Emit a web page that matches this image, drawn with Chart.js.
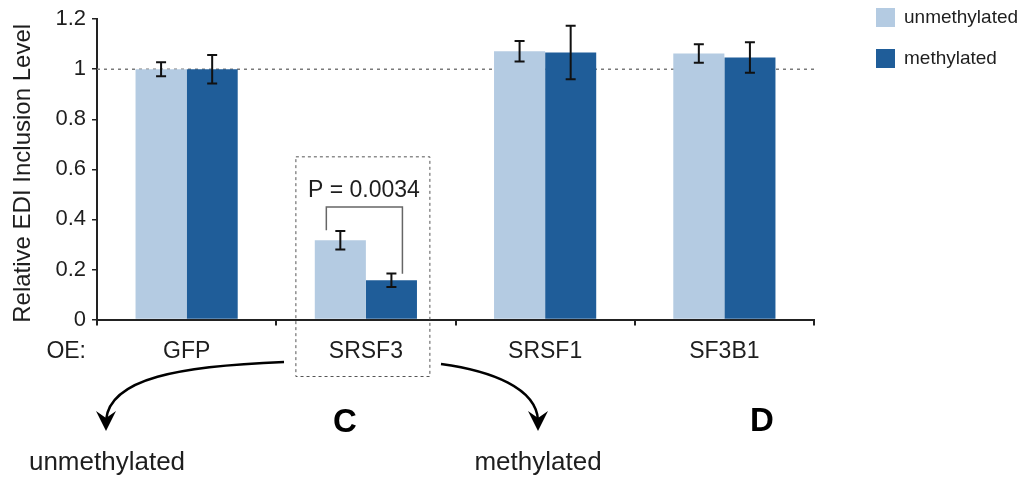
<!DOCTYPE html>
<html>
<head>
<meta charset="utf-8">
<script src="https://cdn.jsdelivr.net/npm/chart.js@4.4.1/dist/chart.umd.min.js"></script>
<style>
  html, body { margin: 0; padding: 0; background: #fff; }
  #wrap { width: 1023px; height: 479px; }
</style>
</head>
<body>
<div id="wrap"><canvas id="c" width="1023" height="479"></canvas></div>
<script>
// ---- data ----
const categories = ['GFP', 'SRSF3', 'SRSF1', 'SF3B1'];
const seriesNames = ['unmethylated', 'methylated'];
const unmethylated = [1.0, 0.317, 1.072, 1.063];
const methylated = [1.0, 0.157, 1.067, 1.047];
const unmethylatedErr = [0.028, 0.037, 0.041, 0.037];
const methylatedErr = [0.057, 0.027, 0.107, 0.061];
const yTicks = [0, 0.2, 0.4, 0.6, 0.8, 1, 1.2];
const yTitle = 'Relative EDI Inclusion Level';
const referenceLevel = 1;
const pValueText = 'P = 0.0034';
const pBracket = { category: 1, top: 0.45, leftEnd: 0.357, rightEnd: 0.183 };
const boxTop = 0.65;
const colors = ['#B4CBE2', '#1F5D99'];
const FONT = '"Liberation Sans", Arial, Helvetica, sans-serif';
const INK = '#1e1e1e';

const annotations = {
  id: 'annotations',
  beforeDatasetsDraw(chart) {
    const { ctx, chartArea, scales: { y } } = chart;
    const py = y.getPixelForValue(referenceLevel);
    ctx.save();
    ctx.strokeStyle = '#7a7a7a';
    ctx.lineWidth = 1.3;
    ctx.setLineDash([3, 4]);
    ctx.beginPath();
    ctx.moveTo(chartArea.left, py);
    ctx.lineTo(chartArea.right + 3, py);
    ctx.stroke();
    ctx.restore();
  },
  afterDatasetsDraw(chart) {
    const { ctx, chartArea, scales: { x, y } } = chart;
    const errs = [unmethylatedErr, methylatedErr];
    ctx.save();
    // error bars
    ctx.strokeStyle = '#111';
    ctx.lineWidth = 2;
    chart.data.datasets.forEach((ds, i) => {
      const meta = chart.getDatasetMeta(i);
      meta.data.forEach((bar, j) => {
        const v = ds.data[j], e = errs[i][j];
        const t = y.getPixelForValue(v + e), b = y.getPixelForValue(v - e);
        ctx.beginPath();
        ctx.moveTo(bar.x, t); ctx.lineTo(bar.x, b);
        ctx.moveTo(bar.x - 5, t); ctx.lineTo(bar.x + 5, t);
        ctx.moveTo(bar.x - 5, b); ctx.lineTo(bar.x + 5, b);
        ctx.stroke();
      });
    });

    // P bracket
    const m0 = chart.getDatasetMeta(0).data[pBracket.category];
    const m1 = chart.getDatasetMeta(1).data[pBracket.category];
    const lx = m0.x - 14, rx = m1.x + 11;
    ctx.strokeStyle = '#666';
    ctx.lineWidth = 1.5;
    ctx.beginPath();
    ctx.moveTo(lx, y.getPixelForValue(pBracket.leftEnd));
    ctx.lineTo(lx, y.getPixelForValue(pBracket.top));
    ctx.lineTo(rx, y.getPixelForValue(pBracket.top));
    ctx.lineTo(rx, y.getPixelForValue(pBracket.rightEnd));
    ctx.stroke();

    const cx = x.getPixelForValue(pBracket.category);
    ctx.fillStyle = INK;
    ctx.font = '23px ' + FONT;
    ctx.textAlign = 'center';
    ctx.textBaseline = 'middle';
    ctx.fillText(pValueText, cx - 2, y.getPixelForValue(pBracket.top) - 16);

    // dashed box around SRSF3
    ctx.strokeStyle = '#555';
    ctx.lineWidth = 1;
    ctx.setLineDash([3, 3]);
    ctx.strokeRect(cx - 70, y.getPixelForValue(boxTop), 134, chartArea.bottom + 57 - y.getPixelForValue(boxTop));
    ctx.setLineDash([]);
    ctx.restore();
  },
  afterDraw(chart) {
    const { ctx, chartArea } = chart;
    ctx.save();
    // y-axis title
    ctx.save();
    ctx.translate(23, (chartArea.top + chartArea.bottom) / 2 + 4);
    ctx.rotate(-Math.PI / 2);
    ctx.font = '24px ' + FONT;
    ctx.fillStyle = INK;
    ctx.textAlign = 'center';
    ctx.textBaseline = 'middle';
    ctx.fillText(yTitle, 0, 0);
    ctx.restore();

    // legend
    ctx.font = '19px ' + FONT;
    ctx.textAlign = 'left';
    ctx.textBaseline = 'middle';
    chart.data.datasets.forEach((ds, i) => {
      const top = 8 + i * 41;
      ctx.fillStyle = ds.backgroundColor;
      ctx.fillRect(876, top, 19, 19);
      ctx.fillStyle = INK;
      ctx.fillText(ds.label, 904, top + 10);
    });

    // OE:
    ctx.font = '23px ' + FONT;
    ctx.textAlign = 'right';
    ctx.fillText('OE:', chartArea.left - 11, chartArea.bottom + 32);

    // arrows
    ctx.strokeStyle = '#000';
    ctx.fillStyle = '#000';
    ctx.lineWidth = 2.5;
    function arrow(p0, c1, c2, p1, tip) {
      ctx.beginPath();
      ctx.moveTo(p0[0], p0[1]);
      ctx.bezierCurveTo(c1[0], c1[1], c2[0], c2[1], p1[0], p1[1]);
      ctx.stroke();
      ctx.beginPath();
      ctx.moveTo(tip[0], tip[1]);
      ctx.lineTo(tip[0] - 10, tip[1] - 20);
      ctx.lineTo(tip[0], tip[1] - 13);
      ctx.lineTo(tip[0] + 10, tip[1] - 20);
      ctx.closePath();
      ctx.fill();
    }
    arrow([284, 362], [180, 366], [110, 378], [106, 420], [106, 431]);
    arrow([441, 364], [492, 371], [536, 388], [538, 420], [538, 431]);

    ctx.fillStyle = INK;
    ctx.textAlign = 'center';
    ctx.font = '26px ' + FONT;
    ctx.fillText(seriesNames[0], 107, 463);
    ctx.fillText(seriesNames[1], 538, 463);

    ctx.fillStyle = '#000';
    ctx.font = 'bold 33px ' + FONT;
    ctx.fillText('C', 345, 423);
    ctx.fillText('D', 762, 422);
    ctx.restore();
  }
};

new Chart(document.getElementById('c'), {
  type: 'bar',
  data: {
    labels: categories,
    datasets: [
      { label: seriesNames[0], data: unmethylated, backgroundColor: colors[0] },
      { label: seriesNames[1], data: methylated, backgroundColor: colors[1] }
    ]
  },
  options: {
    responsive: false,
    animation: false,
    devicePixelRatio: 1,
    categoryPercentage: 0.57,
    barPercentage: 1.0,
    layout: { padding: { left: 0, right: 209, top: 16, bottom: 99.5 } },
    plugins: { legend: { display: false }, tooltip: { enabled: false } },
    scales: {
      x: {
        afterFit(s) { s.height = 60; },
        grid: { offset: true, drawOnChartArea: false, drawTicks: true, tickLength: 6, color: '#222', lineWidth: 2 },
        border: { color: '#222', width: 2 },
        ticks: { color: INK, font: { family: FONT, size: 23 }, padding: 12, maxRotation: 0 }
      },
      y: {
        min: 0, max: 1.2,
        afterFit(s) { s.width = 97; },
        afterBuildTicks(s) { s.ticks = yTicks.map(v => ({ value: v })); },
        grid: { drawOnChartArea: false, drawTicks: true, tickLength: 5, color: '#222', lineWidth: 1.5 },
        border: { color: '#222', width: 2 },
        ticks: { color: INK, font: { family: FONT, size: 22 }, padding: 6, callback: v => String(v) },
        title: { display: false }
      }
    }
  },
  plugins: [annotations]
});
</script>
</body>
</html>
